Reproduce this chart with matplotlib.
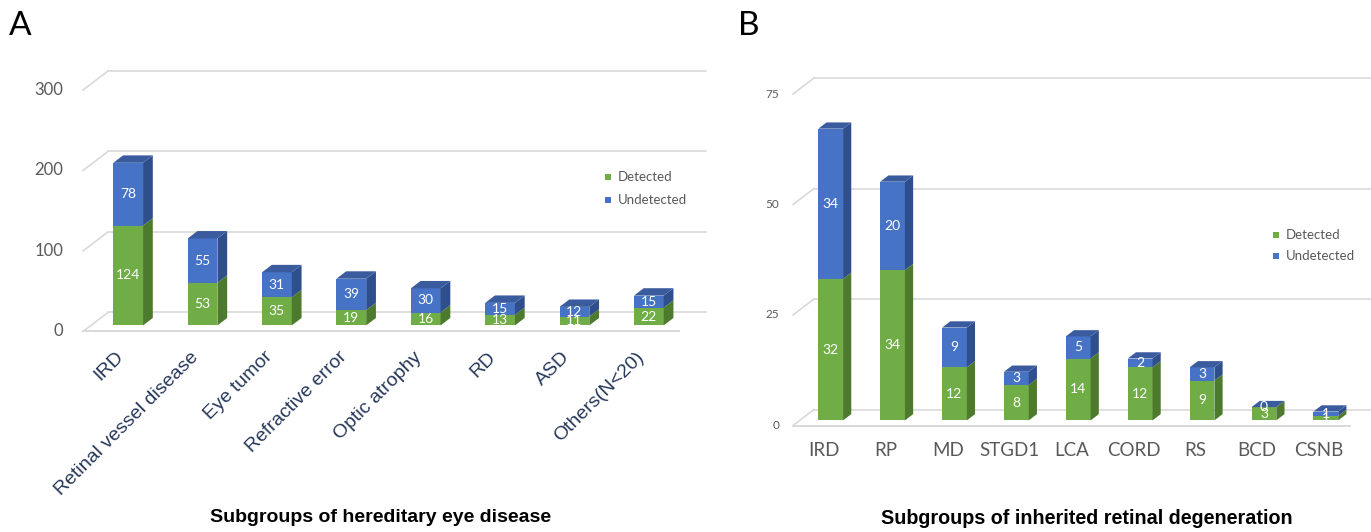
import numpy as np
import matplotlib
matplotlib.use("Agg")
import matplotlib.pyplot as plt
from matplotlib.patches import Polygon, Rectangle

# ---------------- data ----------------
A_categories = ["IRD", "Retinal vessel disease", "Eye tumor", "Refractive error",
                "Optic atrophy", "RD", "ASD", "Others(N<20)"]
A_detected = [124, 53, 35, 19, 16, 13, 11, 22]
A_undetected = [78, 55, 31, 39, 30, 15, 12, 15]
A_yticks = [0, 100, 200, 300]
A_title = "Subgroups of hereditary eye disease"

B_categories = ["IRD", "RP", "MD", "STGD1", "LCA", "CORD", "RS", "BCD", "CSNB"]
B_detected = [32, 34, 12, 8, 14, 12, 9, 3, 1]
B_undetected = [34, 20, 9, 3, 5, 2, 3, 0, 1]
B_yticks = [0, 25, 50, 75]
B_title = "Subgroups of inherited retinal degeneration"

series_names = ["Detected", "Undetected"]

# ---------------- style ----------------
W, H = 1371, 532
GREEN = ("#70AD47", "#4E7A2E", "#5E9139")
BLUE = ("#4673C6", "#2E4F8C", "#3A5C9E")
GRID = "#D9D9D9"
TICK_C = "#595959"
CAT_A_C = "#263859"

fig = plt.figure(figsize=(W / 100, H / 100), dpi=100)
fig.patch.set_facecolor("white")


def make_axes(box, xlim, ylim):
    l, t, r, b = box
    ax = fig.add_axes([l / W, 1 - b / H, (r - l) / W, (b - t) / H])
    ax.set_xlim(*xlim)
    ax.set_ylim(*ylim)
    ax.axis("off")
    return ax


def px_to_data(ax, dx, dy):
    p0 = ax.transData.transform((0, 0))
    p1 = ax.transData.transform((1, 1))
    return dx / (p1[0] - p0[0]), dy / (p1[1] - p0[1])


def draw_panel(ax, det, undet, yticks, wall_px, grid_right, floor_right, val_fs):
    n = len(det)
    Dx, Dy = px_to_data(ax, *wall_px)
    for v in yticks:
        ax.plot([-0.5, -0.5 + Dx], [v, v + Dy], color=GRID, lw=1.2, zorder=1)
        ax.plot([-0.5 + Dx, grid_right], [v + Dy, v + Dy], color=GRID, lw=1.2, zorder=1)
    ax.plot([-0.5, floor_right], [0, 0], color=GRID, lw=1.4, zorder=1)

    f0x, f0y = 0.32 * Dx, 0.32 * Dy
    f1x, f1y = 0.71 * Dx, 0.71 * Dy
    bw = 0.40
    x = np.arange(n)
    bottoms = np.zeros(n)
    for vals, (front, side, top) in zip([det, undet], [GREEN, BLUE]):
        vals = np.asarray(vals, dtype=float)
        ax.bar(x + f0x, vals, bw, bottom=bottoms + f0y, color=front,
               linewidth=0, zorder=3)
        for i in range(n):
            xr = x[i] + bw / 2
            y0 = bottoms[i]
            y1 = bottoms[i] + vals[i]
            if vals[i] > 0:
                ax.add_patch(Polygon([(xr + f0x, y0 + f0y), (xr + f1x, y0 + f1y),
                                      (xr + f1x, y1 + f1y), (xr + f0x, y1 + f0y)],
                                     closed=True, facecolor=side, lw=0, zorder=3))
            ax.text(x[i] + f0x, y0 + f0y + vals[i] / 2, f"{int(vals[i])}",
                    ha="center", va="center", color="white", fontsize=val_fs,
                    family="Lato", zorder=5)
        bottoms = bottoms + vals
    # top faces
    for i in range(n):
        xl = x[i] - bw / 2
        xr = x[i] + bw / 2
        yt = bottoms[i]
        ax.add_patch(Polygon([(xl + f0x, yt + f0y), (xr + f0x, yt + f0y),
                              (xr + f1x, yt + f1y), (xl + f1x, yt + f1y)],
                             closed=True, facecolor=BLUE[2], lw=0, zorder=4))


def ytick_labels(ax, yticks, dx_px, fs):
    for v in yticks:
        ax.annotate(f"{v}", xy=(-0.5, v), xytext=(dx_px, 0), textcoords="offset pixels",
                    ha="right", va="center", fontsize=fs, color=TICK_C, family="Lato")


def legend(x_sq, x_txt, ys, sq, fs):
    for name, col, y in zip(series_names, [GREEN[0], BLUE[0]], ys):
        fig.add_artist(Rectangle((x_sq / W, 1 - (y + sq / 2) / H), sq / W, sq / H,
                                 transform=fig.transFigure, facecolor=col, lw=0))
        fig.text(x_txt / W, 1 - y / H, name, ha="left", va="center", fontsize=fs,
                 color=TICK_C, family="Lato")


# ---------------- panel A ----------------
axA = make_axes((45.8, 65.85, 707.75, 335.5), (-1.0, 7.9), (-5, 330))
draw_panel(axA, A_detected, A_undetected, A_yticks, (25, 19), 7.876, 7.51, 10)
ytick_labels(axA, A_yticks, -19.5, 12)
for i, c in enumerate(A_categories):
    axA.annotate(c, xy=(i, 0), xytext=(-5, -17), textcoords="offset pixels",
                 ha="right", va="top", rotation=45, rotation_mode="anchor",
                 fontsize=14, color=CAT_A_C, family="Liberation Sans")
legend(605, 618, [177, 200], 6, 9.5)
fig.text(381 / W, 1 - 518 / H, A_title, ha="center", va="center", fontsize=14,
         fontweight="bold", family="Liberation Sans", color="black")
fig.text(9 / W, 1 - 26 / H, "A", ha="left", va="center", fontsize=24,
         family="Lato", color="black")

# ---------------- panel B ----------------
axB = make_axes((749.7, 71.9, 1371.1, 434.34), (-1.2, 8.84), (-2, 80))
draw_panel(axB, B_detected, B_undetected, B_yticks, (21, 16), 8.84, 8.5, 10)
ytick_labels(axB, B_yticks, -13.5, 8.5)
for i, c in enumerate(B_categories):
    axB.annotate(c, xy=(i, 0), xytext=(0, -24.5), textcoords="offset pixels",
                 ha="center", va="center", fontsize=13.5, color=TICK_C, family="Lato")
legend(1273, 1286, [235, 256], 5.5, 9.5)
fig.text(1087 / W, 1 - 518 / H, B_title, ha="center", va="center", fontsize=14.2,
         fontweight="bold", family="Liberation Sans", color="black")
fig.text(738 / W, 1 - 26 / H, "B", ha="left", va="center", fontsize=24,
         family="Lato", color="black")

fig.savefig("out.png", dpi=100, facecolor="white")
